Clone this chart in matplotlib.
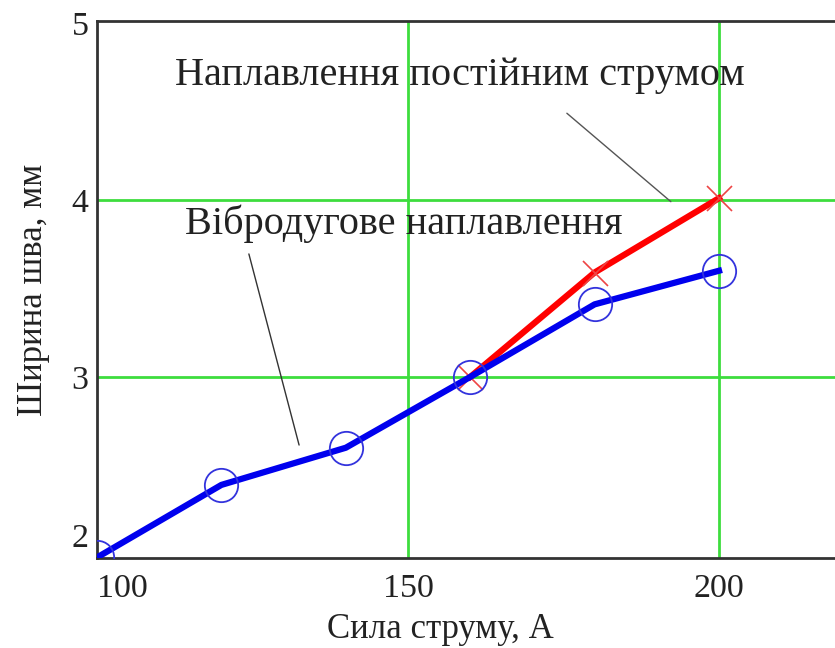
import numpy as np
import matplotlib
matplotlib.use("Agg")
import matplotlib.pyplot as plt

plt.rcParams['font.family'] = ['Liberation Serif', 'DejaVu Serif']

# data
current_vibro = [100, 120, 140, 160, 180, 200]
width_vibro = [1.98, 2.39, 2.60, 3.00, 3.41, 3.60]
current_dc = [160, 180, 200]
width_dc = [3.00, 3.59, 4.01]

x_ticks = [100, 150, 200]
y_ticks = [2, 3, 4, 5]
x_title = "Сила струму, А"
y_title = "Ширина шва, мм"
label_dc = "Наплавлення постійним струмом"
label_vibro = "Вібродугове наплавлення"

fig = plt.figure(figsize=(8.35, 6.48), dpi=100)
ax = fig.add_axes([0.1162, 0.1389, 0.8838, 0.8287])

ax.set_xlim(100, 218.65)
ax.set_ylim(1.977, 5.011)

# green grid
for gx in [150, 200]:
    ax.axvline(gx, color='#3ddd3d', lw=2, zorder=1)
for gy in [3, 4]:
    ax.axhline(gy, color='#3ddd3d', lw=2, zorder=1)

ax.plot(current_dc, width_dc, color='red', lw=4.5, zorder=3,
        marker='x', ms=18, mec='#ee4444', mew=1.2)
ax.plot(current_vibro, width_vibro, color='#0000ee', lw=4.5, zorder=4,
        marker='o', ms=24, mfc='none', mec='#3333dd', mew=1.3)

# labels with leader lines
ax.text(112.5, 4.65, label_dc, fontsize=29, va='baseline', ha='left', color='#222222')
ax.annotate('', xy=(192.6, 3.98), xytext=(175.2, 4.50),
            arrowprops=dict(arrowstyle='-', color='#555555', lw=1.0))
ax.text(114.1, 3.81, label_vibro, fontsize=29, va='baseline', ha='left', color='#222222')
ax.annotate('', xy=(132.6, 2.60), xytext=(124.3, 3.71),
            arrowprops=dict(arrowstyle='-', color='#333333', lw=1.0))

ax.set_xticks(x_ticks)
ax.set_yticks(y_ticks)
ax.tick_params(length=0, labelsize=24.5, colors='#222222')
ax.tick_params(axis='x', pad=11)
ax.tick_params(axis='y', pad=6)
ax.get_xticklabels()[0].set_ha('left')
ax.get_yticklabels()[0].set_va('bottom')

for s in ['left', 'top', 'bottom']:
    ax.spines[s].set_color('#333333')
    ax.spines[s].set_linewidth(2)
ax.spines['right'].set_visible(False)

ax.set_xlabel(x_title, fontsize=25, color='#222222')
ax.set_ylabel(y_title, fontsize=25, color='#222222')
ax.xaxis.set_label_coords(0.465, -0.103)
ax.yaxis.set_label_coords(-0.064, 0.5)

fig.savefig('out.png', dpi=100)
